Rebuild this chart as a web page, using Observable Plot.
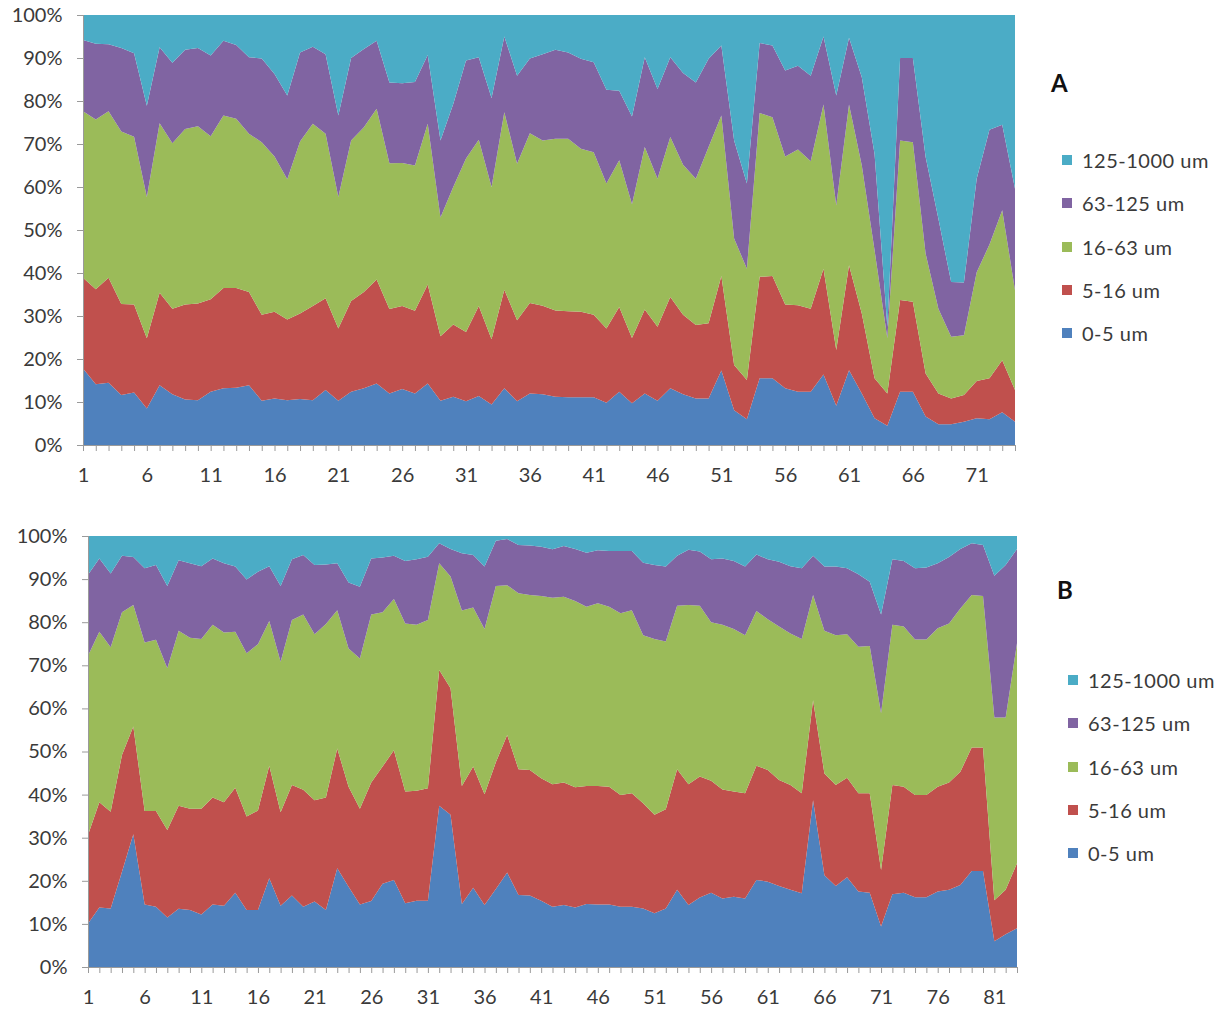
<!DOCTYPE html>
<html>
<head>
<meta charset="utf-8">
<script src="https://cdn.jsdelivr.net/npm/d3@7"></script>
<script src="https://cdn.jsdelivr.net/npm/@observablehq/plot@0.6"></script>
<style>
  body { margin: 0; background: #fff; }
  #wrap { position: relative; width: 1226px; height: 1012px; overflow: hidden; font-family: Lato, "Open Sans", sans-serif; color: #3a3a3a; background: #fff; }
  .panel { position: absolute; left: 0; }
  .letter { position: absolute; font-weight: bold; font-size: 24px; line-height: 24px; color: #111; }
  .item { position: absolute; height: 24px; display: flex; align-items: center; white-space: nowrap; font-size: 20px; letter-spacing: 0.5px; color: #3a3a3a; }
  .sw { width: 10px; height: 10px; margin-right: 10px; flex: none; }
</style>
</head>
<body>
<div id="wrap"></div>
<script>
// ---------- categories ----------
const classes = ["0-5 um", "5-16 um", "16-63 um", "63-125 um", "125-1000 um"];
const colors  = ["#4F81BD", "#C0504D", "#9BBB59", "#8064A2", "#4BACC6"];

// ---------- Panel A (74 samples), % per size class ----------
const a_0_5 = [17.8,14.1,14.5,11.6,12.2,8.5,13.9,11.8,10.6,10.4,
  12.4,13.2,13.3,13.9,10.3,10.8,10.4,10.7,10.4,12.8,
  10.3,12.4,13.2,14.3,12.0,13.0,12.0,14.3,10.3,11.2,
  10.2,11.4,9.4,13.2,10.2,12.0,11.8,11.2,11.1,11.1,
  11.1,9.8,12.4,9.7,12.0,10.3,13.2,11.8,10.8,10.8,
  17.3,8.1,6.0,15.5,15.5,13.2,12.4,12.4,16.4,9.1,
  17.4,12.0,6.2,4.5,12.4,12.4,6.6,4.8,4.8,5.4,
  6.2,6.0,7.6,5.4];
const a_5_16 = [21.1,22.1,24.4,21.2,20.5,16.3,21.5,19.9,22.1,22.5,
  21.5,23.3,23.2,21.7,20.0,20.2,18.8,19.9,21.9,21.3,
  16.8,21.1,22.4,24.2,19.6,19.3,19.2,23.0,15.0,16.8,
  16.1,20.9,15.2,22.9,18.8,21.0,20.6,20.1,20.0,19.9,
  19.2,17.3,19.7,15.2,19.5,17.2,21.2,18.5,17.1,17.5,
  22.0,10.5,9.1,23.6,23.8,19.5,20.1,19.3,24.6,13.0,
  24.4,18.6,9.3,7.5,21.3,20.9,10.0,7.2,6.0,6.2,
  8.7,9.5,12.1,7.4];
const a_16_63 = [38.7,39.5,38.7,40.1,39.0,32.9,39.4,38.5,40.8,41.2,
  37.9,40.1,39.4,36.8,40.1,36.1,32.6,40.0,42.4,38.3,
  30.6,37.3,38.3,39.7,33.9,33.3,33.8,37.4,27.6,32.0,
  40.3,38.7,35.4,41.3,36.4,39.5,38.4,39.9,40.1,37.9,
  37.8,33.7,34.1,31.1,37.8,34.4,37.2,34.9,34.0,41.0,
  37.3,29.4,25.9,38.1,36.9,34.4,36.2,34.3,38.2,33.6,
  37.4,34.4,29.8,12.8,37.1,37.1,27.9,19.7,14.4,13.9,
  25.3,31.1,34.9,23.2];
const a_63_125 = [16.6,17.6,15.6,19.4,19.4,21.2,17.7,18.7,18.4,18.2,
  18.8,17.4,17.1,17.8,19.5,19.2,19.5,20.7,17.9,18.5,
  18.9,19.2,18.2,15.8,18.8,18.5,19.4,16.0,17.9,19.3,
  22.8,19.2,20.7,17.6,20.5,17.4,20.1,20.7,20.1,20.9,
  20.9,21.8,16.2,20.4,20.9,20.9,18.6,21.3,22.4,20.5,
  16.3,22.8,19.8,16.3,16.7,20.0,19.5,19.9,15.8,25.6,
  15.5,20.5,22.4,2.7,19.2,19.6,22.5,20.9,12.7,12.3,
  21.7,26.7,19.9,23.6];
const a_125_1000 = [5.8,6.7,6.8,7.7,8.9,21.1,7.5,11.1,8.1,7.7,
  9.4,6.0,7.0,9.8,10.1,13.7,18.7,8.7,7.4,9.1,
  23.4,10.0,7.9,6.0,15.7,15.9,15.6,9.3,29.2,20.7,
  10.6,9.8,19.3,5.0,14.1,10.1,9.1,8.1,8.7,10.2,
  11.0,17.4,17.6,23.6,9.8,17.2,9.8,13.5,15.7,10.2,
  7.1,29.2,39.2,6.5,7.1,12.9,11.8,14.1,5.0,18.7,
  5.3,14.5,32.3,72.5,10.0,10.0,33.0,47.4,62.1,62.2,
  38.1,26.7,25.5,40.4];

// ---------- Panel B (83 samples), % per size class ----------
const b_0_5 = [10.1,13.8,13.6,22.1,30.8,14.5,14.0,11.5,13.5,13.2,
  12.2,14.5,14.2,17.2,13.2,13.2,20.6,14.2,16.6,14.0,
  15.2,13.2,22.9,18.6,14.5,15.3,19.3,20.2,14.8,15.4,
  15.4,37.4,35.3,14.6,18.4,14.4,18.1,21.9,16.7,16.6,
  15.4,14.0,14.4,13.8,14.6,14.5,14.5,14.0,14.0,13.6,
  12.5,13.6,17.9,14.4,16.1,17.2,15.9,16.3,15.9,20.2,
  19.8,18.8,17.9,17.1,38.7,21.3,18.8,20.8,17.5,17.2,
  9.4,16.9,17.2,16.2,16.2,17.5,17.9,19.0,22.3,22.3,
  6.0,7.6,9.0];
const b_5_16 = [20.5,24.4,22.4,27.1,25.0,21.7,22.2,20.3,23.9,23.5,
  24.5,24.8,24.0,24.4,21.7,23.1,26.1,21.7,25.6,27.1,
  23.5,26.1,27.8,23.2,22.2,27.5,27.2,30.1,25.9,25.5,
  26.1,31.5,29.4,27.4,28.1,25.7,29.4,31.9,29.2,29.1,
  28.4,28.4,28.4,27.9,27.4,27.5,27.3,25.9,26.3,24.4,
  22.8,23.0,28.0,28.0,28.1,26.0,25.3,24.4,24.4,26.5,
  25.9,24.6,24.3,23.2,23.2,23.6,23.4,23.1,22.8,23.1,
  13.1,25.3,24.6,23.7,23.7,24.3,24.9,26.3,28.6,28.6,
  9.5,10.3,15.1];
const b_16_63 = [41.6,39.6,38.2,33.1,28.2,39.1,39.7,37.5,40.6,39.7,
  39.4,40.1,39.4,36.2,37.9,38.6,33.6,34.9,38.3,40.7,
  38.5,40.3,32.1,32.1,34.9,39.0,35.8,35.1,39.0,38.5,
  39.0,24.8,25.9,40.7,36.9,38.3,40.9,34.8,40.8,40.6,
  42.3,43.3,43.1,43.2,41.6,42.4,41.8,42.2,42.5,39.0,
  40.8,38.9,37.9,41.6,39.6,36.8,38.2,37.7,36.7,35.9,
  35.0,35.6,35.2,35.8,24.4,33.1,34.8,33.3,34.0,34.2,
  36.4,37.2,37.2,36.1,36.1,36.8,36.9,37.9,35.4,35.2,
  42.4,40.0,51.0];
const b_63_125 = [18.8,17.0,17.1,13.1,11.1,17.2,17.4,19.1,16.4,17.3,
  16.9,15.4,16.1,15.1,17.1,16.8,12.7,17.6,14.1,13.8,
  16.1,13.8,10.9,15.3,16.6,13.0,12.7,10.0,14.5,15.2,
  14.7,4.6,6.4,13.3,12.2,14.5,10.5,10.7,11.2,11.5,
  11.4,11.2,11.8,12.1,12.5,12.3,12.9,14.4,13.7,16.8,
  17.2,17.4,11.6,12.8,12.6,14.6,15.4,15.8,15.9,13.1,
  13.9,15.0,15.6,16.4,9.1,14.9,15.9,15.3,16.8,14.9,
  22.9,15.2,15.2,16.5,16.7,15.1,15.4,13.8,12.0,11.8,
  32.9,35.4,21.9];
const b_125_1000 = [9.0,5.2,8.7,4.6,4.9,7.5,6.7,11.6,5.6,6.3,
  7.0,5.2,6.3,7.1,10.1,8.3,7.0,11.6,5.4,4.4,
  6.7,6.6,6.3,10.8,11.8,5.2,5.0,4.6,5.8,5.4,
  4.8,1.7,3.0,4.0,4.4,7.1,1.1,0.7,2.1,2.2,
  2.5,3.1,2.3,3.0,3.9,3.3,3.5,3.5,3.5,6.2,
  6.7,7.1,4.6,3.2,3.6,5.4,5.2,5.8,7.1,4.3,
  5.4,6.0,7.0,7.5,4.6,7.1,7.1,7.5,8.9,10.6,
  18.2,5.4,5.8,7.5,7.3,6.3,4.9,3.0,1.7,2.1,
  9.2,6.7,3.0];

const yTicks = [0, 10, 20, 30, 40, 50, 60, 70, 80, 90, 100];

// ---------- build tidy tables ----------
function tidy(series) {
  const out = [];
  series[0].forEach((_, i) => classes.forEach((c, k) => out.push({sample: i + 1, cls: c, value: series[k][i]})));
  return out;
}
const dataA = tidy([a_0_5, a_5_16, a_16_63, a_63_125, a_125_1000]);
const dataB = tidy([b_0_5, b_5_16, b_16_63, b_63_125, b_125_1000]);

const axisGray = "#9a9a9a";
const textCol = "#3a3a3a";

function chart(data, n, m) {
  return Plot.plot({
    width: 1226, height: m.height,
    marginTop: m.top, marginBottom: m.bottom, marginLeft: m.left, marginRight: m.right,
    style: {fontFamily: "Lato, 'Open Sans', sans-serif", fontSize: "20px", color: textCol, background: "transparent", overflow: "visible"},
    x: {type: "linear", domain: [1, n]},
    y: {domain: [0, 100]},
    color: {domain: classes, range: colors},
    marks: [
      Plot.areaY(data, {x: "sample", y: "value", fill: "cls", order: classes, curve: "linear"}),
      Plot.axisY({ticks: yTicks, tickFormat: d => d + "%", tickSize: 6, tickPadding: 15, label: null, stroke: axisGray, fill: textCol, fontSize: 20}),
      Plot.axisX({ticks: d3.range(1, n + 1), tickSize: 6, tickFormat: () => "", label: null, stroke: axisGray}),
      Plot.axisX({ticks: d3.range(1, n + 1, 5), tickSize: 0, tickPadding: 22, label: null, fill: textCol, fontSize: 20}),
      Plot.ruleY([0], {stroke: axisGray}),
      Plot.ruleX([1], {stroke: axisGray})
    ]
  });
}

const wrap = document.getElementById("wrap");

function addPanel(svg, top) {
  const d = document.createElement("div");
  d.className = "panel";
  d.style.top = top + "px";
  d.appendChild(svg);
  wrap.appendChild(d);
}

addPanel(chart(dataA, 74, {height: 505, top: 15, bottom: 60, left: 83, right: 211}), 0);
addPanel(chart(dataB, 83, {height: 507, top: 31, bottom: 45, left: 88, right: 209}), 505);

function addLegend(letter, lx, ly, sx, rows) {
  const L = document.createElement("div");
  L.className = "letter";
  L.textContent = letter;
  L.style.left = lx + "px";
  L.style.top = ly + "px";
  wrap.appendChild(L);
  // top row is the coarsest class
  const order = classes.slice().reverse();
  const cols = colors.slice().reverse();
  order.forEach((c, i) => {
    const it = document.createElement("div");
    it.className = "item";
    it.style.left = sx + "px";
    it.style.top = (rows[i] - 12) + "px";
    const sw = document.createElement("span");
    sw.className = "sw";
    sw.style.background = cols[i];
    it.appendChild(sw);
    const t = document.createElement("span");
    t.textContent = c;
    it.appendChild(t);
    wrap.appendChild(it);
  });
}
addLegend("A", 1051, 71, 1062, [160, 203, 247, 290, 333]);
addLegend("B", 1057, 578, 1068, [680, 723, 767, 810, 853]);
</script>
</body>
</html>
